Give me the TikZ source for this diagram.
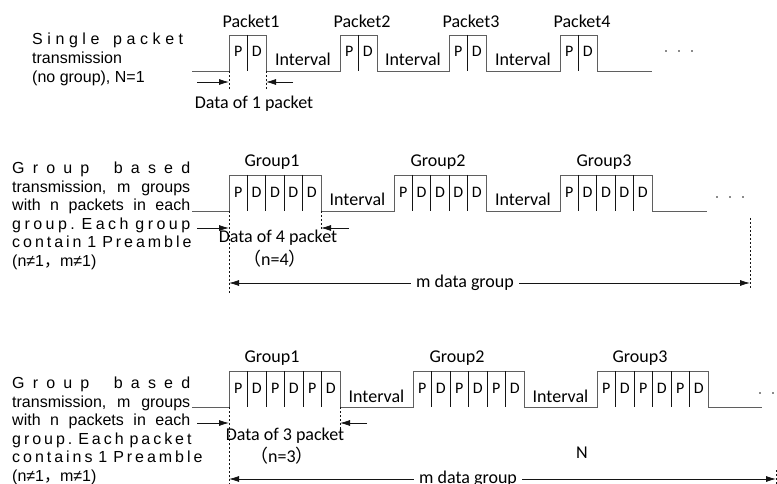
\documentclass[tikz,border=0pt]{standalone}
\usepackage{fontspec}
\setmainfont{Carlito}
\newfontfamily\arialf{Liberation Sans}
\newfontfamily\cjkf{Noto Sans CJK SC}
\usetikzlibrary{arrows.meta}
\definecolor{sigline}{RGB}{95,95,95}
\definecolor{figline}{RGB}{20,20,20}
\tikzset{
  sig/.style  ={draw=sigline, line width=0.9bp},
  cell/.style ={draw=figline, line width=0.7bp},
  mk/.style   ={draw=figline, line width=0.6bp, dash pattern=on 2bp off 2bp},
  lab/.style  ={font=\fontsize{18bp}{21bp}\selectfont, inner sep=0pt},
  labs/.style ={font=\fontsize{16bp}{19bp}\selectfont, inner sep=0pt, anchor=base},
  side/.style ={font=\arialf\fontsize{16bp}{19bp}\selectfont, inner sep=0pt, anchor=base west},
  ptr/.style  ={draw=figline, line width=0.8bp, -{Latex[length=10bp,width=6bp]}},
  span/.style ={draw=figline, line width=0.8bp, {Latex[length=10bp,width=6bp]}-{Latex[length=10bp,width=6bp]}},
}
\newcommand\spreadto[2]{\makebox[#1][s]{#2}}
\frenchspacing

\begin{document}
\begin{tikzpicture}[x=1bp,y=-1bp]
  \useasboundingbox (0,0) rectangle (777,484);
  % single packet
  \begin{scope}
  \node[side] (s1a) at (32,44.5) {\spreadto{151bp}{S i n g l e\ \ \ p a c k e t}};
  \node[side] (s1b) at (32,63.5) {transmission};
  \node[side] (s1c) at (32,83) {(no group), N=1};
  \draw[sig] (192,71) -- (229,71) -- (229,35) -- (266,35) -- (266,71) -- (340,71) -- (340,35) -- (377,35) -- (377,71)
    -- (449,71) -- (449,35) -- (486,35) -- (486,71) -- (560,71) -- (560,35) -- (597,35) -- (597,71) -- (652,71);
  \draw[cell] (247.5,35) -- (247.5,71);
  \draw[cell] (358.5,35) -- (358.5,71);
  \draw[cell] (467.5,35) -- (467.5,71);
  \draw[cell] (578.5,35) -- (578.5,71);
  \node[lab,anchor=base] (pk1) at (251,27.5) {Packet1};
  \node[lab,anchor=base] (pk2) at (362,27.5) {Packet2};
  \node[lab,anchor=base] (pk3) at (471,27.5) {Packet3};
  \node[lab,anchor=base] (pk4) at (582,27.5) {Packet4};
  \node[labs] (pk1p) at (238.2,57) {P};
  \node[labs] (pk1d) at (256.8,57) {D};
  \node[labs] (pk2p) at (349.2,57) {P};
  \node[labs] (pk2d) at (367.8,57) {D};
  \node[labs] (pk3p) at (458.2,57) {P};
  \node[labs] (pk3d) at (476.8,57) {D};
  \node[labs] (pk4p) at (569.2,57) {P};
  \node[labs] (pk4d) at (587.8,57) {D};
  \node[lab,anchor=base] (iv1) at (303,66) {Interval};
  \node[lab,anchor=base] (iv2) at (413,66) {Interval};
  \node[lab,anchor=base] (iv3) at (523,66) {Interval};
  \fill[figline] (666,51) circle (0.9bp) (679,51) circle (0.9bp) (692,51) circle (0.9bp);
  \draw[mk] (229,71) -- (229,91);
  \draw[mk] (266,71) -- (266,91);
  \coordinate (d1a) at (197,82);
  \coordinate (d1b) at (229,82);
  \coordinate (d1c) at (293,82);
  \coordinate (d1d) at (266,82);
  \draw[ptr] (d1a) -- (d1b);
  \draw[ptr] (d1c) -- (d1d);
  \node[lab,anchor=base] (dt1) at (254,109) {Data of 1 packet};
  \end{scope}
  % one preamble per group
  \begin{scope}[shift={(0,140)}]
  \node[side] (s2a) at (12,34) {\spreadto{178bp}{G r o u p\ \ \ b a s e d}};
  \node[side] (s2b) at (12,52.5) {\spreadto{178bp}{transmission, m groups}};
  \node[side] (s2c) at (12,71) {\spreadto{178bp}{with n packets in each}};
  \node[side] (s2d) at (12,89.5) {\spreadto{178bp}{g r o u p .\ \ E a c h\ \ g r o u p}};
  \node[side] (s2e) at (12,108) {\spreadto{178bp}{c o n t a i n\ \ 1\ \ P r e a m b l e}};
  \node[side] (s2f) at (12,126.5) {(n≠1{\cjkf ，}m≠1)};
  \draw[sig] (192,71) -- (229,71) -- (229,35) -- (321,35) -- (321,71) -- (394,71) -- (394,35) -- (486,35) -- (486,71)
    -- (560,71) -- (560,35) -- (652,35) -- (652,71) -- (707,71);
  \draw[cell] (247.4,35) -- (247.4,71);
  \draw[cell] (265.8,35) -- (265.8,71);
  \draw[cell] (284.2,35) -- (284.2,71);
  \draw[cell] (302.6,35) -- (302.6,71);
  \draw[cell] (412.4,35) -- (412.4,71);
  \draw[cell] (430.8,35) -- (430.8,71);
  \draw[cell] (449.2,35) -- (449.2,71);
  \draw[cell] (467.6,35) -- (467.6,71);
  \draw[cell] (578.4,35) -- (578.4,71);
  \draw[cell] (596.8,35) -- (596.8,71);
  \draw[cell] (615.2,35) -- (615.2,71);
  \draw[cell] (633.6,35) -- (633.6,71);
  \node[lab,anchor=base] (gr1) at (272,27) {Group1};
  \node[lab,anchor=base] (gr2) at (438,27) {Group2};
  \node[lab,anchor=base] (gr3) at (604,27) {Group3};
  \node[labs] (g1c1) at (238.2,58) {P};
  \node[labs] (g1c2) at (256.6,58) {D};
  \node[labs] (g1c3) at (275,58) {D};
  \node[labs] (g1c4) at (293.4,58) {D};
  \node[labs] (g1c5) at (311.8,58) {D};
  \node[labs] (g2c1) at (403.2,58) {P};
  \node[labs] (g2c2) at (421.6,58) {D};
  \node[labs] (g2c3) at (440,58) {D};
  \node[labs] (g2c4) at (458.4,58) {D};
  \node[labs] (g2c5) at (476.8,58) {D};
  \node[labs] (g3c1) at (569.2,58) {P};
  \node[labs] (g3c2) at (587.6,58) {D};
  \node[labs] (g3c3) at (606,58) {D};
  \node[labs] (g3c4) at (624.4,58) {D};
  \node[labs] (g3c5) at (642.8,58) {D};
  \node[lab,anchor=base] (iv4) at (357.5,66) {Interval};
  \node[lab,anchor=base] (iv5) at (523,66) {Interval};
  \fill[figline] (717,57) circle (0.9bp) (730,57) circle (0.9bp) (743,57) circle (0.9bp);
  \draw[mk] (229,71) -- (229,153);
  \draw[mk] (321,71) -- (321,90);
  \draw[mk] (750,78) -- (750,150);
  \coordinate (d2a) at (197,88);
  \coordinate (d2b) at (229,88);
  \coordinate (d2c) at (349,88);
  \coordinate (d2d) at (321,88);
  \draw[ptr] (d2a) -- (d2b);
  \draw[ptr] (d2c) -- (d2d);
  \node[lab,anchor=base] (dt2) at (278,103) {Data of 4 packet};
  \node[lab,anchor=base] (nn2) at (275,126) {{\cjkf （}n=4{\cjkf ）}};
  \coordinate (m2l) at (229,143);
  \coordinate (m2r) at (750,143);
  \draw[span] (m2l) -- node[lab,fill=white,inner xsep=5bp,pos=0.453] (mg2) {m data group} (m2r);
  \end{scope}
  % one preamble per packet
  \begin{scope}[shift={(0,336)}]
  \node[side] (s3a) at (12,52.5) {\spreadto{178bp}{G r o u p\ \ \ b a s e d}};
  \node[side] (s3b) at (12,71) {\spreadto{178bp}{transmission, m groups}};
  \node[side] (s3c) at (12,89.5) {\spreadto{178bp}{with n packets in each}};
  \node[side] (s3d) at (12,108) {\spreadto{178bp}{g r o u p .\ \ E a c h\ \ p a c k e t}};
  \node[side] (s3e) at (12,126.5) {\spreadto{178bp}{c o n t a i n s\ \ 1\ \ P r e a m b l e}};
  \node[side] (s3f) at (12,145) {(n≠1{\cjkf ，}m≠1)};
  \draw[sig] (192,71) -- (229,71) -- (229,35) -- (340,35) -- (340,71) -- (413,71) -- (413,35) -- (524,35) -- (524,71)
    -- (597,71) -- (597,35) -- (708,35) -- (708,71) -- (762,71);
  \draw[cell] (247.5,35) -- (247.5,71);
  \draw[cell] (266,35) -- (266,71);
  \draw[cell] (284.5,35) -- (284.5,71);
  \draw[cell] (303,35) -- (303,71);
  \draw[cell] (321.5,35) -- (321.5,71);
  \draw[cell] (431.5,35) -- (431.5,71);
  \draw[cell] (450,35) -- (450,71);
  \draw[cell] (468.5,35) -- (468.5,71);
  \draw[cell] (487,35) -- (487,71);
  \draw[cell] (505.5,35) -- (505.5,71);
  \draw[cell] (615.5,35) -- (615.5,71);
  \draw[cell] (634,35) -- (634,71);
  \draw[cell] (652.5,35) -- (652.5,71);
  \draw[cell] (671,35) -- (671,71);
  \draw[cell] (689.5,35) -- (689.5,71);
  \node[lab,anchor=base] (gr4) at (272,26) {Group1};
  \node[lab,anchor=base] (gr5) at (457,26) {Group2};
  \node[lab,anchor=base] (gr6) at (640,26) {Group3};
  \node[labs] (h1c1) at (238.2,57) {P};
  \node[labs] (h1c2) at (256.8,57) {D};
  \node[labs] (h1c3) at (275.2,57) {P};
  \node[labs] (h1c4) at (293.8,57) {D};
  \node[labs] (h1c5) at (312.2,57) {P};
  \node[labs] (h1c6) at (330.8,57) {D};
  \node[labs] (h2c1) at (422.2,57) {P};
  \node[labs] (h2c2) at (440.8,57) {D};
  \node[labs] (h2c3) at (459.2,57) {P};
  \node[labs] (h2c4) at (477.8,57) {D};
  \node[labs] (h2c5) at (496.2,57) {P};
  \node[labs] (h2c6) at (514.8,57) {D};
  \node[labs] (h3c1) at (606.2,57) {P};
  \node[labs] (h3c2) at (624.8,57) {D};
  \node[labs] (h3c3) at (643.2,57) {P};
  \node[labs] (h3c4) at (661.8,57) {D};
  \node[labs] (h3c5) at (680.2,57) {P};
  \node[labs] (h3c6) at (698.8,57) {D};
  \node[lab,anchor=base] (iv6) at (376.5,66) {Interval};
  \node[lab,anchor=base] (iv7) at (560.5,66) {Interval};
  \fill[figline] (760,57) circle (0.9bp) (773,57) circle (0.9bp);
  \draw[mk] (229,71) -- (229,148);
  \draw[mk] (340,71) -- (340,94);
  \draw[mk] (776,134) -- (776,148);
  \coordinate (d3a) at (197,87);
  \coordinate (d3b) at (229,87);
  \coordinate (d3c) at (367,87);
  \coordinate (d3d) at (340,87);
  \draw[ptr] (d3a) -- (d3b);
  \draw[ptr] (d3c) -- (d3d);
  \node[lab,anchor=base] (dt3) at (285,104) {Data of 3 packet};
  \node[lab,anchor=base] (nn3) at (282,126) {{\cjkf （}n=3{\cjkf ）}};
  \node[lab] (nlab) at (582,117) {N};
  \coordinate (m3l) at (229,143);
  \coordinate (m3r) at (776,143);
  \draw[span] (m3l) -- node[lab,fill=white,inner xsep=5bp,pos=0.437] (mg3) {m data group} (m3r);
  \end{scope}
\end{tikzpicture}
\end{document}
